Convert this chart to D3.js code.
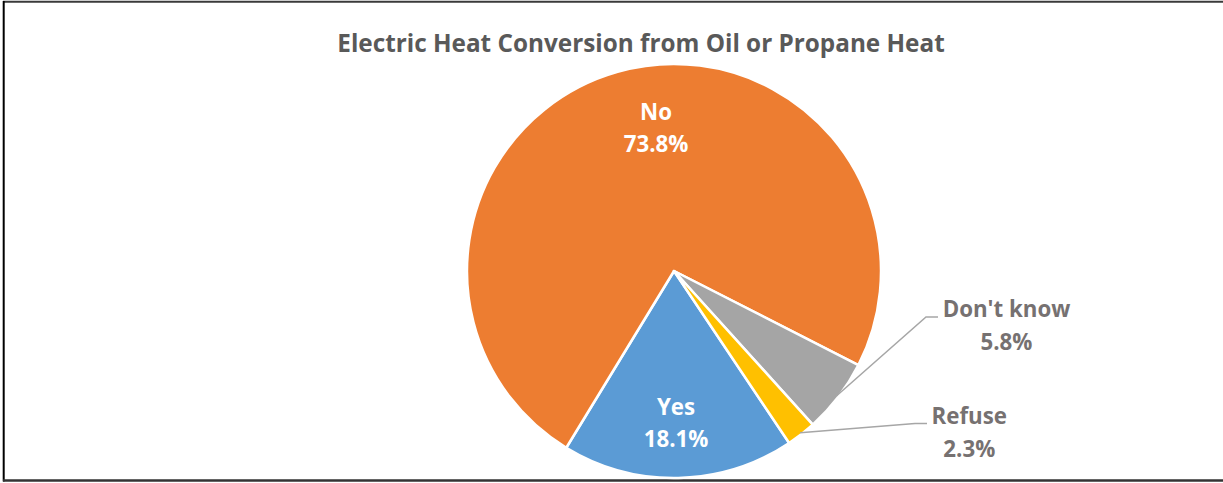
<!DOCTYPE html>
<html>
<head>
<meta charset="utf-8">
<script src="https://cdn.jsdelivr.net/npm/d3@7"></script>
<style>
  html, body { margin: 0; padding: 0; background: #fff; }
  svg { display: block; }
  text { font-family: "Open Sans", Lato, sans-serif; font-weight: bold; }
</style>
</head>
<body>
<svg id="chart" width="1223" height="483"></svg>
<script>
// ---- data ----
const categories = ["Yes", "No", "Don't know", "Refuse"];
const values = [18.1, 73.8, 5.8, 2.3];
const valueLabels = ["18.1%", "73.8%", "5.8%", "2.3%"];
const colors = ["#5B9BD5", "#ED7D31", "#A5A5A5", "#FFC000"];
const title = "Electric Heat Conversion from Oil or Propane Heat";

// ---- layout ----
const W = 1223, H = 483;
const cx = 674, cy = 271, R = 207;
const startDeg = 146.2;
const labelLayout = {
  "Yes":        { inside: true,  dx: 2,   dy: 152 },
  "No":         { inside: true,  dx: -18, dy: -143 },
  "Don't know": { inside: false, elbow: [926, 317], end: [938, 317], tx: 1006.5, ty: 317.3 },
  "Refuse":     { inside: false, elbow: [915, 423.5], end: [927, 423.5], tx: 969.3, ty: 424 }
};
const lineGap = 32.5;
const labelSize = "22.3px";

const svg = d3.select("#chart");

// frame
svg.append("line").attr("x1", 3).attr("x2", W).attr("y1", 1.8).attr("y2", 1.8)
  .attr("stroke", "#3a3a3a").attr("stroke-width", 2);
svg.append("line").attr("x1", 3.7).attr("x2", 3.7).attr("y1", 1).attr("y2", 481.5)
  .attr("stroke", "#000").attr("stroke-width", 2);
svg.append("line").attr("x1", 3).attr("x2", W).attr("y1", 480.5).attr("y2", 480.5)
  .attr("stroke", "#333").attr("stroke-width", 2.5);

// title
svg.append("text")
  .attr("x", 641).attr("y", 52)
  .attr("text-anchor", "middle")
  .attr("fill", "#595959")
  .style("font-size", "24.3px")
  .text(title);

const data = categories.map((c, i) => ({ cat: c, value: values[i], label: valueLabels[i], color: colors[i] }));

const pie = d3.pie().sort(null).value(d => d.value)
  .startAngle(startDeg * Math.PI / 180)
  .endAngle(startDeg * Math.PI / 180 + 2 * Math.PI);
const arcs = pie(data);
const arc = d3.arc().innerRadius(0).outerRadius(R);

const g = svg.append("g").attr("transform", `translate(${cx},${cy})`);
g.selectAll("path.slice").data(arcs).join("path")
  .attr("class", "slice")
  .attr("d", arc)
  .attr("fill", d => d.data.color)
  .attr("stroke", "#fff")
  .attr("stroke-width", 2.5)
  .attr("stroke-linejoin", "round");

// labels
arcs.forEach(a => {
  const L = labelLayout[a.data.cat];
  if (L.inside) {
    const x = cx + L.dx, yc = cy + L.dy;
    const t = svg.append("text").attr("text-anchor", "middle").attr("fill", "#fff").style("font-size", labelSize);
    t.append("tspan").attr("x", x).attr("y", yc - lineGap / 2 + 8).text(a.data.cat);
    t.append("tspan").attr("x", x).attr("y", yc + lineGap / 2 + 8).text(a.data.label);
  } else {
    const mid = (a.startAngle + a.endAngle) / 2;
    const px = cx + (R - 2) * Math.sin(mid), py = cy - (R - 2) * Math.cos(mid);
    svg.append("polyline")
      .attr("points", [[px, py], L.elbow, L.end].map(p => p.join(",")).join(" "))
      .attr("fill", "none").attr("stroke", "#A6A6A6").attr("stroke-width", 1.5);
    const t = svg.append("text").attr("text-anchor", "middle").attr("fill", "#767171").style("font-size", labelSize);
    t.append("tspan").attr("x", L.tx).attr("y", L.ty).text(a.data.cat);
    t.append("tspan").attr("x", L.tx).attr("y", L.ty + lineGap).text(a.data.label);
  }
});
</script>
</body>
</html>
